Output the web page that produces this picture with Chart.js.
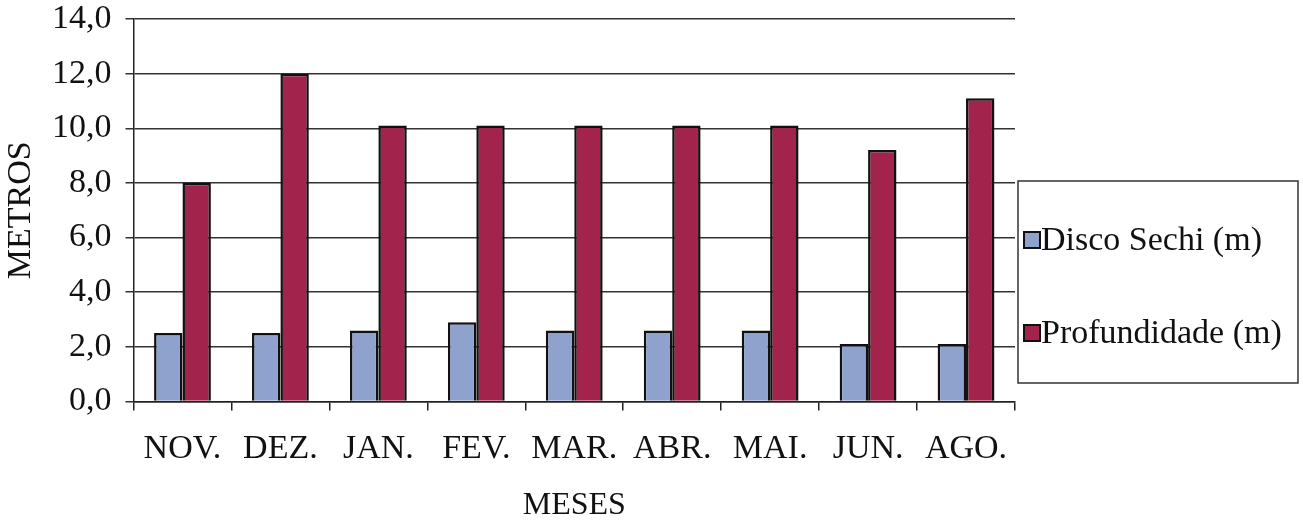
<!DOCTYPE html>
<html>
<head>
<meta charset="utf-8">
<script src="https://cdn.jsdelivr.net/npm/chart.js@4"></script>
<style>
  html, body { margin: 0; padding: 0; background: #fff; }
</style>
</head>
<body>
<canvas id="chart" width="1303" height="520"></canvas>
<script>
// dados
const meses = ['NOV.', 'DEZ.', 'JAN.', 'FEV.', 'MAR.', 'ABR.', 'MAI.', 'JUN.', 'AGO.'];
const discoSechi = [2.5, 2.5, 2.6, 2.9, 2.6, 2.6, 2.6, 2.1, 2.1];
const profundidade = [8.0, 12.0, 10.1, 10.1, 10.1, 10.1, 10.1, 9.2, 11.1];
const serieNomes = ['Disco Sechi (m)', 'Profundidade (m)'];

const FONT = 'Liberation Serif, Times New Roman, serif';

// legenda desenhada à mão, com caixa, do lado direito
const boxLegend = {
	id: 'boxLegend',
	afterDraw(chart) {
		const ctx = chart.ctx;
		const x = 1018, y = 181, w = 280, h = 202;
		ctx.save();
		ctx.strokeStyle = '#333';
		ctx.lineWidth = 1.5;
		ctx.strokeRect(x, y, w, h);
		ctx.font = '34px ' + FONT;
		ctx.textBaseline = 'middle';
		const rows = [240, 333];
		chart.data.datasets.forEach((ds, i) => {
			const cy = rows[i];
			ctx.fillStyle = ds.backgroundColor;
			ctx.fillRect(1024, cy - 8, 16, 16);
			ctx.strokeStyle = '#111';
			ctx.lineWidth = 2;
			ctx.strokeRect(1024, cy - 8, 16, 16);
			ctx.fillStyle = '#111';
			ctx.fillText(ds.label, 1041, cy + 1);
		});
		ctx.restore();
	}
};

new Chart(document.getElementById('chart'), {
	type: 'bar',
	data: {
		labels: meses,
		datasets: [
			{
				label: serieNomes[0],
				data: discoSechi,
				backgroundColor: '#8fa1cd',
				borderColor: '#111',
				borderWidth: 2.5,
			},
			{
				label: serieNomes[1],
				data: profundidade,
				backgroundColor: '#a2234c',
				borderColor: '#111',
				borderWidth: 2.5,
			},
		],
	},
	options: {
		responsive: false,
		animation: false,
		layout: { padding: { top: 0, right: 288, left: 4, bottom: 0 } },
		plugins: {
			legend: { display: false },
			tooltip: { enabled: false },
		},
		datasets: {
			bar: { categoryPercentage: 0.58, barPercentage: 1.0 },
		},
		scales: {
			x: {
				grid: {
					display: true,
					offset: true,
					drawOnChartArea: false,
					tickLength: 9,
					color: '#222',
					lineWidth: 1.5,
				},
				border: { color: '#222', width: 1.5 },
				ticks: {
					color: '#111',
					font: { family: FONT, size: 34 },
					padding: 18.5,
					maxRotation: 0,
				},
				title: {
					display: true,
					text: 'MESES',
					color: '#111',
					font: { family: FONT, size: 32, lineHeight: 0.9 },
					padding: { top: 3, bottom: 0 },
				},
			},
			y: {
				min: 0,
				max: 14,
				afterFit: (scale) => { scale.paddingTop = 19; },
				ticks: {
					stepSize: 2,
					color: '#111',
					font: { family: FONT, size: 34 },
					padding: 14,
					callback: (v) => v.toFixed(1).replace('.', ','),
				},
				grid: {
					color: '#333',
					lineWidth: 1.5,
					tickLength: 8,
				},
				border: { color: '#222', width: 1.5 },
				title: {
					display: true,
					text: 'METROS',
					color: '#111',
					font: { family: FONT, size: 34, lineHeight: 1.0 },
					padding: { top: 0, bottom: 0 },
				},
			},
		},
	},
	plugins: [boxLegend],
});
</script>
</body>
</html>
